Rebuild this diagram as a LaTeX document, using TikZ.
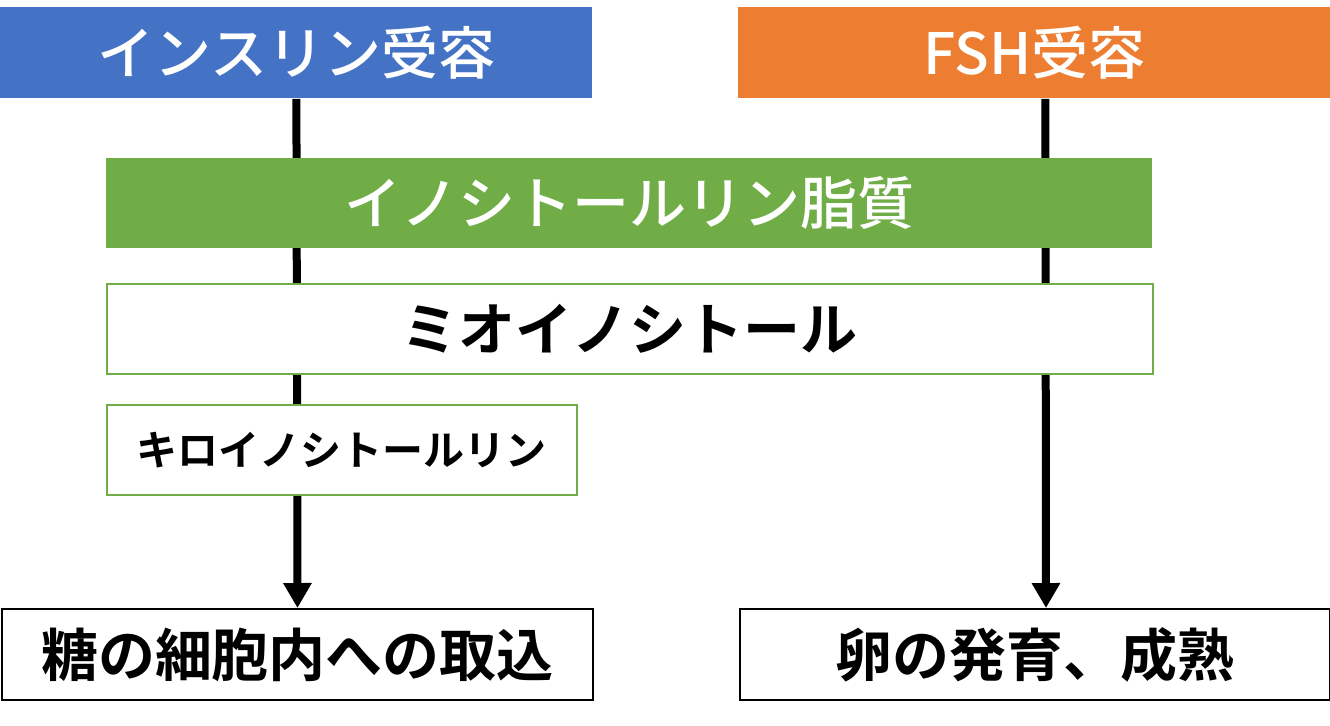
\documentclass[tikz,border=0pt]{standalone}
\usepackage{fontspec}
\setmainfont{Noto Sans CJK JP}[BoldFont={Noto Sans CJK JP Bold}]
\newfontfamily\medjp{Noto Sans CJK JP Medium}
\usetikzlibrary{positioning,arrows.meta,backgrounds}
\definecolor{insc}{RGB}{68,114,196}
\definecolor{fshc}{RGB}{237,125,49}
\definecolor{lipc}{RGB}{112,173,71}
\tikzset{
  head/.style    = {anchor=north west, inner sep=0pt, text=white,
                    font=\medjp\fontsize{28.5pt}{30pt}\selectfont},
  inositol/.style = {anchor=north west, inner sep=0pt, draw=lipc, line width=0.8pt,
                    fill=white, font=\fontsize{28.5pt}{30pt}\selectfont\bfseries},
  result/.style  = {anchor=north west, inner sep=0pt, draw=black, line width=1pt,
                    fill=white, font=\fontsize{28.5pt}{30pt}\selectfont\bfseries},
  flow/.style    = {-{Triangle[width=13.5pt,length=12.5pt]}, line width=4pt},
}
\begin{document}
\begin{tikzpicture}[x=0.5pt,y=-0.5pt]
\useasboundingbox (0,0) rectangle (1330,725);

% receptors on top, outcomes at the bottom
\node[head, fill=insc, minimum width=296pt, minimum height=45.5pt] (ins) at (0,7) {インスリン受容};
\node[head, fill=fshc, minimum width=296pt, minimum height=45.5pt] (fsh) at (738,7) {FSH受容};

\node[head, fill=lipc, minimum width=523pt, minimum height=45pt] (lipid) at (106,158) {イノシトールリン脂質};
\node[inositol, minimum width=523pt, minimum height=45pt] (myo) at (106,283) {ミオイノシトール};
\node[inositol, minimum width=235pt, minimum height=45pt,
      font=\fontsize{20.5pt}{22pt}\selectfont\bfseries] (chiro) at (106,404) {キロイノシトールリン};

\node[result, minimum width=295.5pt, minimum height=45.5pt] (sugar) at (1,608) {糖の細胞内への取込};
\node[result, minimum width=295pt, minimum height=45.5pt] (egg) at (739,608) {卵の発育、成熟};

\begin{scope}[on background layer]
\draw[flow] (ins.south) -- (sugar.north);
\draw[flow] ([xshift=5.5pt]fsh.south) -- ([xshift=5.5pt]egg.north);
\end{scope}

\end{tikzpicture}
\end{document}
